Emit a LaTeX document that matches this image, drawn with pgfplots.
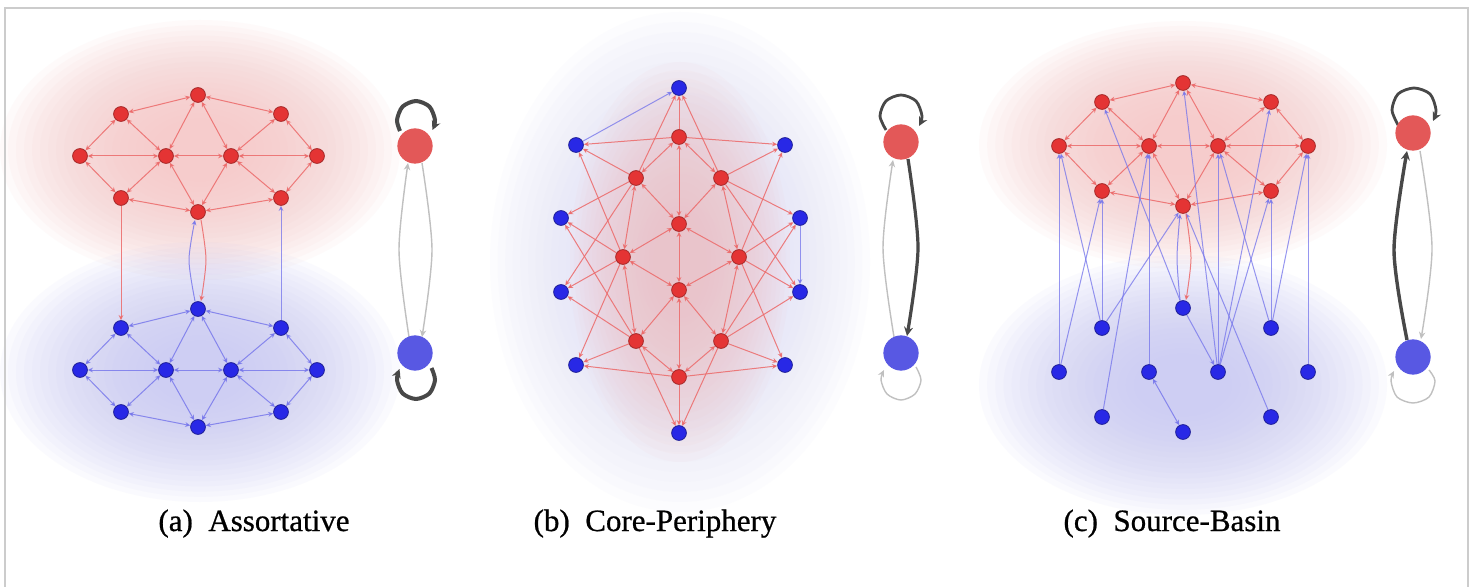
\documentclass[border=0pt]{standalone}
\usepackage{pgfplots}
\pgfplotsset{compat=1.18}
\usepackage{pgfplotstable}
\usepackage{fontspec}
\setmainfont{Liberation Serif}
\newfontfamily\capfont[FakeBold=0.7]{Liberation Serif}
\usetikzlibrary{arrows.meta}

\definecolor{nred}{RGB}{228,52,52}
\definecolor{nredd}{RGB}{165,40,40}
\definecolor{nblue}{RGB}{40,40,230}
\definecolor{nblued}{RGB}{30,30,150}
\definecolor{mred}{RGB}{227,88,88}
\definecolor{mblue}{RGB}{88,88,227}
\definecolor{ered}{RGB}{236,105,105}
\definecolor{eblue}{RGB}{115,115,235}
\definecolor{mdark}{RGB}{72,72,72}
\definecolor{mlight}{RGB}{192,192,192}
\definecolor{gred}{RGB}{246,196,196}
\definecolor{gblue}{RGB}{198,198,243}
\definecolor{gblueb}{RGB}{222,222,248}

\pgfplotsset{
  redge/.style={draw=ered, line width=0.5pt, opacity=0.85, {Stealth[length=2.6pt,width=2.4pt]}-{Stealth[length=2.6pt,width=2.4pt]}, shorten >=3.9pt, shorten <=3.9pt},
  rarr/.style={draw=ered, line width=0.5pt, opacity=0.85, -{Stealth[length=2.6pt,width=2.4pt]}, shorten >=3.9pt, shorten <=3.9pt},
  bedge/.style={draw=eblue, line width=0.5pt, opacity=0.8, {Stealth[length=2.6pt,width=2.4pt]}-{Stealth[length=2.6pt,width=2.4pt]}, shorten >=3.9pt, shorten <=3.9pt},
  barr/.style={draw=eblue, line width=0.5pt, opacity=0.75, -{Stealth[length=2.6pt,width=2.4pt]}, shorten >=3.9pt, shorten <=3.9pt},
  darkarc/.style={draw=mdark, smooth, line width=#1, -{Stealth[length=4.5pt,width=4.5pt]}},
  lightarc/.style={draw=mlight, smooth, line width=0.7pt, -{Stealth[length=3.5pt,width=3.2pt]}},
}
\newcommand{\E}[5]{\addplot[#1] coordinates {(#2,#3) (#4,#5)};}
% soft glow: stacked translucent ellipses
\newcommand{\glow}[5]{%
  \pgfplotsinvokeforeach{0,...,19}{%
    \fill[#1, opacity=0.075] (axis cs:#2,#3) ellipse [x radius={#4*(1-0.04*##1)}, y radius={#5*(1-0.04*##1)}];}}

% small nodes (pixel coordinates, y downward)
\pgfplotstableread{
x y
198 95
121 114
281 114
80 156
166 156
231 156
317 156
121 198
281 198
198 212
679 137
636 178
721 178
679 224
623 257
739 257
679 290
636 341
721 341
679 377
1183 83
1102 102
1271 102
1059 146
1149 146
1218 146
1308 146
1102 191
1271 191
1183 206
}\rednodes
\pgfplotstableread{
x y
198 309
121 328
281 328
80 370
166 370
231 370
317 370
121 412
281 412
198 427
679 88
576 145
785 145
561 218
800 218
561 292
800 292
576 365
785 365
679 433
1183 308
1102 328
1271 328
1059 372
1149 372
1218 372
1308 372
1102 417
1271 417
1183 432
}\bluenodes
\pgfplotstableread{
x y
415 146
901 142
1413 133
}\metared
\pgfplotstableread{
x y
415 353
901 353
1413 357
}\metablue

\begin{document}
\begin{tikzpicture}
\begin{axis}[width=737.5pt, height=293.5pt, scale only axis,
  xmin=0, xmax=1475, ymin=0, ymax=587, y dir=reverse,
  axis lines=none, clip=false]
\fill[white] (axis cs:0,0) rectangle (axis cs:1475,587);
\coordinate (SW) at (axis cs:0,587);
\coordinate (NE) at (axis cs:1475,0);
% glows
\glow{gred}{200}{150}{100pt}{65pt}
\glow{gblue}{200}{372}{100pt}{65pt}
\glow{gblueb}{680}{262}{95pt}{125pt}
\glow{gred}{680}{262}{55pt}{100pt}
\glow{gred}{1183}{145}{102pt}{62pt}
\glow{gblue}{1183}{385}{102pt}{65pt}
% frame
\draw[gray!40, line width=0.9pt] (axis cs:5,587) -- (axis cs:5,8) -- (axis cs:1468,8) -- (axis cs:1468,587);

% ---------- (a) red group
\E{redge}{198}{95}{121}{114}
\E{redge}{198}{95}{281}{114}
\E{redge}{198}{95}{166}{156}
\E{redge}{198}{95}{231}{156}
\E{redge}{121}{114}{80}{156}
\E{redge}{121}{114}{166}{156}
\E{redge}{281}{114}{231}{156}
\E{redge}{281}{114}{317}{156}
\E{redge}{80}{156}{166}{156}
\E{redge}{166}{156}{231}{156}
\E{redge}{231}{156}{317}{156}
\E{redge}{80}{156}{121}{198}
\E{redge}{166}{156}{121}{198}
\E{redge}{166}{156}{198}{212}
\E{redge}{231}{156}{198}{212}
\E{redge}{231}{156}{281}{198}
\E{redge}{317}{156}{281}{198}
\E{redge}{121}{198}{198}{212}
\E{redge}{281}{198}{198}{212}
% (a) blue group
\E{bedge}{198}{309}{121}{328}
\E{bedge}{198}{309}{281}{328}
\E{bedge}{198}{309}{166}{370}
\E{bedge}{198}{309}{231}{370}
\E{bedge}{121}{328}{80}{370}
\E{bedge}{121}{328}{166}{370}
\E{bedge}{281}{328}{231}{370}
\E{bedge}{281}{328}{317}{370}
\E{bedge}{80}{370}{166}{370}
\E{bedge}{166}{370}{231}{370}
\E{bedge}{231}{370}{317}{370}
\E{bedge}{80}{370}{121}{412}
\E{bedge}{166}{370}{121}{412}
\E{bedge}{166}{370}{198}{427}
\E{bedge}{231}{370}{198}{427}
\E{bedge}{231}{370}{281}{412}
\E{bedge}{317}{370}{281}{412}
\E{bedge}{121}{412}{198}{427}
\E{bedge}{281}{412}{198}{427}
% (a) between groups
\E{rarr}{121}{198}{121}{328}
\E{barr}{281}{328}{281}{198}
\addplot[draw=eblue, line width=0.5pt, opacity=0.8, smooth, -{Stealth[length=2.6pt,width=2.4pt]}] coordinates {(195,301) (189,260) (195,220)};
\addplot[draw=ered, line width=0.5pt, opacity=0.85, smooth, -{Stealth[length=2.6pt,width=2.4pt]}] coordinates {(201,220) (206,260) (201,301)};

% ---------- (b) core
\E{redge}{679}{137}{636}{178}
\E{redge}{679}{137}{721}{178}
\E{redge}{679}{137}{679}{224}
\E{redge}{636}{178}{679}{224}
\E{redge}{721}{178}{679}{224}
\E{redge}{636}{178}{623}{257}
\E{redge}{721}{178}{739}{257}
\E{redge}{679}{224}{623}{257}
\E{redge}{679}{224}{739}{257}
\E{redge}{679}{224}{679}{290}
\E{redge}{623}{257}{679}{290}
\E{redge}{739}{257}{679}{290}
\E{redge}{623}{257}{636}{341}
\E{redge}{739}{257}{721}{341}
\E{redge}{679}{290}{636}{341}
\E{redge}{679}{290}{721}{341}
\E{redge}{679}{290}{679}{377}
\E{redge}{636}{341}{679}{377}
\E{redge}{721}{341}{679}{377}
% (b) core to periphery
\E{rarr}{679}{137}{679}{88}
\E{rarr}{636}{178}{679}{88}
\E{rarr}{721}{178}{679}{88}
\E{rarr}{679}{137}{576}{145}
\E{rarr}{636}{178}{576}{145}
\E{rarr}{623}{257}{576}{145}
\E{rarr}{679}{137}{785}{145}
\E{rarr}{721}{178}{785}{145}
\E{rarr}{739}{257}{785}{145}
\E{rarr}{636}{178}{561}{218}
\E{rarr}{623}{257}{561}{218}
\E{rarr}{636}{341}{561}{218}
\E{rarr}{721}{178}{800}{218}
\E{rarr}{739}{257}{800}{218}
\E{rarr}{721}{341}{800}{218}
\E{rarr}{636}{178}{561}{292}
\E{rarr}{623}{257}{561}{292}
\E{rarr}{636}{341}{561}{292}
\E{rarr}{721}{178}{800}{292}
\E{rarr}{739}{257}{800}{292}
\E{rarr}{721}{341}{800}{292}
\E{rarr}{679}{377}{576}{365}
\E{rarr}{636}{341}{576}{365}
\E{rarr}{623}{257}{576}{365}
\E{rarr}{679}{377}{785}{365}
\E{rarr}{721}{341}{785}{365}
\E{rarr}{739}{257}{785}{365}
\E{rarr}{679}{377}{679}{433}
\E{rarr}{636}{341}{679}{433}
\E{rarr}{721}{341}{679}{433}
% (b) periphery to periphery
\E{barr}{576}{145}{679}{88}
\E{barr}{800}{218}{800}{292}

% ---------- (c) red group
\E{redge}{1183}{83}{1102}{102}
\E{redge}{1183}{83}{1271}{102}
\E{redge}{1183}{83}{1149}{146}
\E{redge}{1183}{83}{1218}{146}
\E{redge}{1102}{102}{1059}{146}
\E{redge}{1102}{102}{1149}{146}
\E{redge}{1271}{102}{1218}{146}
\E{redge}{1271}{102}{1308}{146}
\E{redge}{1059}{146}{1149}{146}
\E{redge}{1149}{146}{1218}{146}
\E{redge}{1218}{146}{1308}{146}
\E{redge}{1059}{146}{1102}{191}
\E{redge}{1149}{146}{1102}{191}
\E{redge}{1149}{146}{1183}{206}
\E{redge}{1218}{146}{1183}{206}
\E{redge}{1218}{146}{1271}{191}
\E{redge}{1308}{146}{1271}{191}
\E{redge}{1102}{191}{1183}{206}
\E{redge}{1271}{191}{1183}{206}
% (c) sources to basin
\E{barr}{1059}{372}{1059}{146}
\E{barr}{1059}{372}{1102}{191}
\E{barr}{1102}{328}{1102}{191}
\E{barr}{1102}{328}{1059}{146}
\E{barr}{1102}{328}{1183}{206}
\E{barr}{1149}{372}{1149}{146}
\E{barr}{1102}{417}{1149}{146}
\E{barr}{1183}{308}{1102}{102}
\E{barr}{1218}{372}{1218}{146}
\E{barr}{1218}{372}{1271}{102}
\E{barr}{1218}{372}{1271}{191}
\E{barr}{1218}{372}{1183}{83}
\E{barr}{1271}{328}{1271}{191}
\E{barr}{1271}{328}{1218}{146}
\E{barr}{1271}{328}{1308}{146}
\E{barr}{1308}{372}{1308}{146}
\E{barr}{1271}{417}{1183}{206}
\E{barr}{1183}{308}{1218}{372}
\E{bedge}{1149}{372}{1183}{432}
\addplot[draw=eblue, line width=0.5pt, opacity=0.8, smooth, -{Stealth[length=2.6pt,width=2.4pt]}] coordinates {(1180,300) (1177,258) (1180,214)};
\addplot[draw=ered, line width=0.5pt, opacity=0.85, smooth, -{Stealth[length=2.6pt,width=2.4pt]}] coordinates {(1186,214) (1191,258) (1186,300)};

% ---------- small nodes
\addplot[only marks, mark=*, mark size=3.7pt, mark options={fill=nred, draw=nredd, line width=0.4pt}] table {\rednodes};
\addplot[only marks, mark=*, mark size=3.7pt, mark options={fill=nblue, draw=nblued, line width=0.4pt}] table {\bluenodes};

% ---------- meta graphs
% (a)
\addplot[darkarc=2pt] coordinates {(400,131) (397,120) (402.6,106.6) (416,101) (429.4,106.6) (435,120) (432.5,130)};
\addplot[darkarc=2pt] coordinates {(431.5,368) (435,380) (429.4,393.4) (416,399) (402.6,393.4) (397,380) (399.5,369)};
\addplot[lightarc] coordinates {(409,337) (399,250) (408,163)};
\addplot[lightarc] coordinates {(422,163) (432,250) (422,337)};
% (b)
\addplot[darkarc=1.4pt] coordinates {(886,130) (880,116) (886,101) (901,95) (916,101) (922,116) (919,126)};
\addplot[darkarc=1.6pt] coordinates {(908,159) (918,248) (907,336)};
\addplot[lightarc] coordinates {(894,337) (883,248) (893,160)};
\addplot[lightarc] coordinates {(916,367) (921,380) (915,394) (901,400) (887,394) (881,380) (884,370)};
% (c)
\addplot[darkarc=1.4pt] coordinates {(1398,125) (1392,110) (1398,94) (1414,88) (1430,94) (1436,110) (1433,121)};
\addplot[darkarc=1.7pt] coordinates {(1407,340) (1394,250) (1407,151)};
\addplot[lightarc] coordinates {(1420,151) (1432,248) (1421,339)};
\addplot[lightarc] coordinates {(1429,370) (1435,381) (1429,397) (1413,403) (1397,397) (1391,381) (1394,371)};

\addplot[only marks, mark=*, mark size=8.6pt, mark options={fill=mred, draw=mred}] table {\metared};
\addplot[only marks, mark=*, mark size=8.6pt, mark options={fill=mblue, draw=mblue}] table {\metablue};

% captions
\node[anchor=base, font=\capfont\fontsize{15.5}{18}\selectfont] at (axis cs:254,531) {(a)~~Assortative};
\node[anchor=base, font=\capfont\fontsize{15.5}{18}\selectfont] at (axis cs:655,531) {(b)~~Core-Periphery};
\node[anchor=base, font=\capfont\fontsize{15.5}{18}\selectfont] at (axis cs:1172,531) {(c)~~Source-Basin};
\end{axis}
\pgfresetboundingbox
\path[use as bounding box] (SW) rectangle (NE);
\end{tikzpicture}
\end{document}
